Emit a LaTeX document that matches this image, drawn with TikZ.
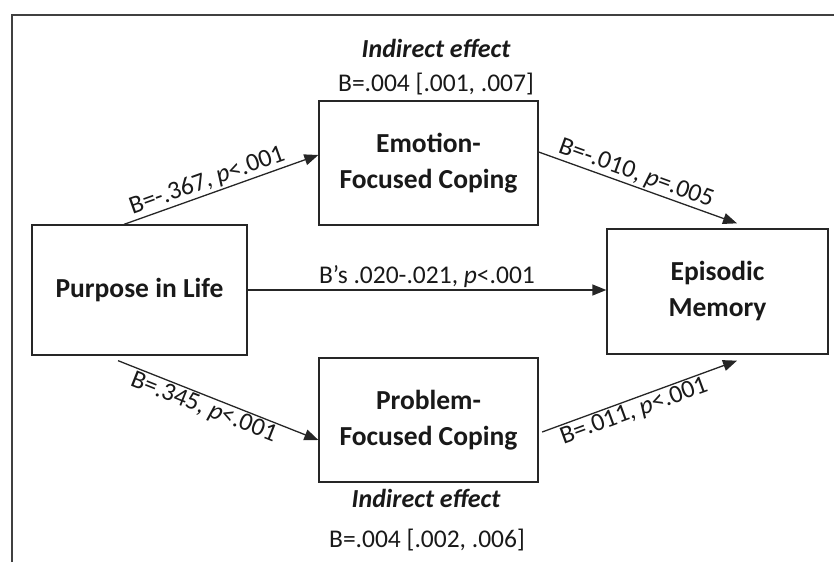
\documentclass[tikz,border=0pt]{standalone}
\usepackage{fontspec}
\setmainfont{Carlito}
\usetikzlibrary{arrows.meta,calc}
\begin{document}
\begin{tikzpicture}[x=1pt,y=-1pt,
  font=\fontsize{25.5}{28}\selectfont,
  every node/.style={text=black!90},
  box/.style={draw=black!85, line width=1.3pt, rectangle, align=center,
    font=\fontsize{27.5}{36}\selectfont\bfseries, inner sep=0pt},
  conn/.style={draw=black!85, line width=1.3pt, -{Triangle[length=14pt,width=11pt]}},
  lab/.style={font=\fontsize{25.5}{28}\selectfont, inner sep=1.5pt, sloped},
  ttl/.style={font=\fontsize{26}{28}\selectfont\bfseries\itshape, inner sep=0pt},
  txt/.style={font=\fontsize{25.5}{28}\selectfont, inner sep=0pt}]
\useasboundingbox (0,0) rectangle (834,562);
\draw[line width=1.5pt, black!75] (12,562) -- (12,15) -- (834,15);

\node[box, minimum width=215pt, minimum height=130pt] (P) at (139.5,290) {Purpose in Life};
\node[box, minimum width=219pt, minimum height=124pt] (E) at (428.5,163) {Emotion-\\Focused Coping};
\node[box, minimum width=219pt, minimum height=124pt] (Q) at (428.5,420) {Problem-\\Focused Coping};
\node[box, minimum width=221pt, minimum height=125pt] (M) at (717.5,291.5) {Episodic\\Memory};

\node[ttl] (t1) at (436,48) {Indirect effect};
\node[txt] (t2) at (436,84) {B=.004 [.001, .007]};
\node[ttl] (t3) at (426,498) {Indirect effect};
\node[txt] (t4) at (427,540) {B=.004 [.002, .006]};

\draw[conn] ([xshift=-15.5pt]P.north) -- node[lab, above, pos=0.45] (l1) {B=-.367, \textit{p}<.001} ([yshift=8pt]E.west);
\draw[conn] ([yshift=11pt]E.east) -- node[lab, above, pos=0.47] (l2) {B=-.010, \textit{p}=.005} ([xshift=19.5pt,yshift=5pt]M.north);
\draw[conn] (P.east) -- node[lab, above, pos=0.5] (l3) {B's .020-.021, \textit{p}<.001} (P.east -| M.west);
\draw[conn] ([xshift=-21.5pt,yshift=-5pt]P.south) -- node[lab, below, pos=0.45] (l4) {B=.345, \textit{p}<.001} ([yshift=-20pt]Q.west);
\draw[conn] ([xshift=3.5pt,yshift=-12pt]Q.east) -- node[lab, below, pos=0.45] (l5) {B=.011, \textit{p}<.001} ([xshift=19.5pt,yshift=-6pt]M.south);
\end{tikzpicture}
\end{document}
